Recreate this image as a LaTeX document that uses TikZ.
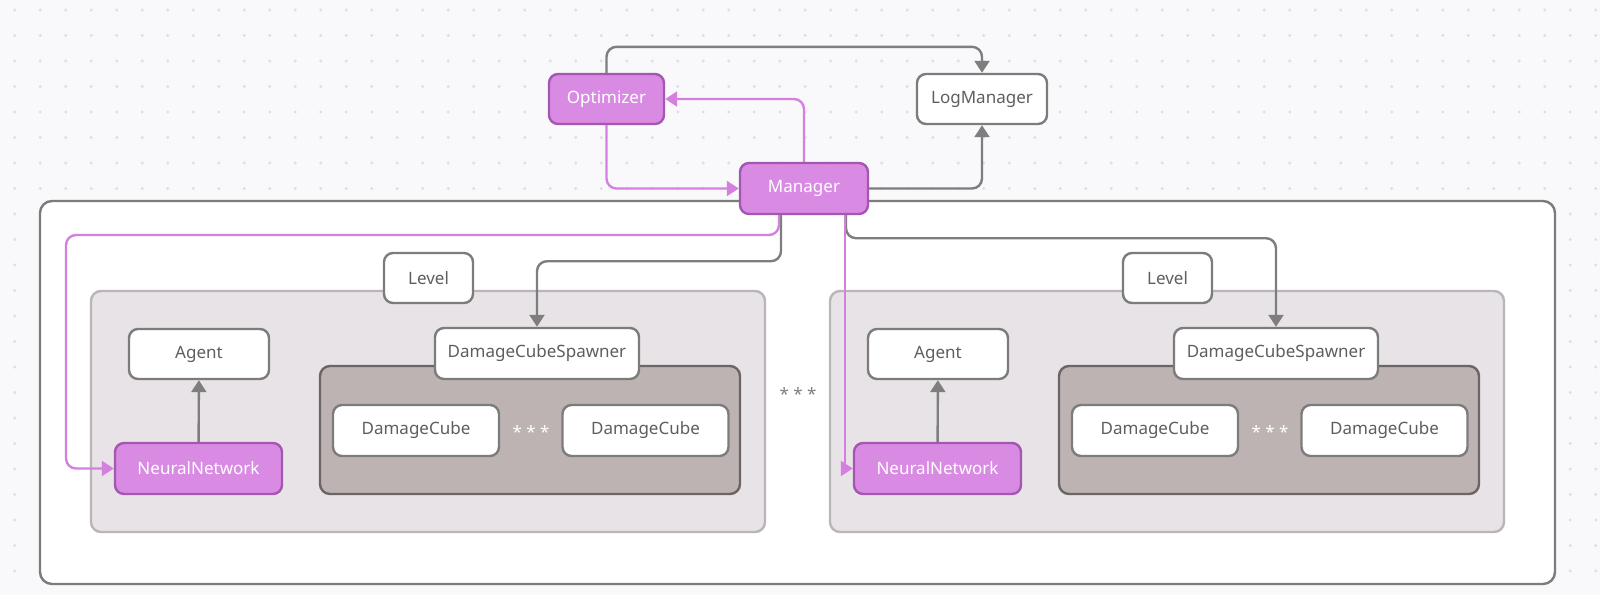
\documentclass[tikz,border=0pt]{standalone}
\usepackage{fontspec}
\setmainfont{Noto Sans}
\usetikzlibrary{arrows.meta}

\definecolor{bgc}{HTML}{F9F9FB}
\definecolor{dotc}{HTML}{DEDEE3}
\definecolor{boxline}{HTML}{7C7C7C}
\definecolor{txtc}{HTML}{5E5E5E}
\definecolor{linec}{HTML}{7E7E7E}
\definecolor{pinkfill}{HTML}{D98BE4}
\definecolor{pinkline}{HTML}{A457B2}
\definecolor{pinkarrow}{HTML}{D580E1}
\definecolor{levelfill}{HTML}{E8E3E6}
\definecolor{levelline}{HTML}{B9B5B8}
\definecolor{cubefill}{HTML}{BCB3B2}
\definecolor{cubeline}{HTML}{6B6565}

\tikzset{
  box/.style={draw=boxline, fill=white, rounded corners=9pt, line width=2.4pt,
    text=txtc, font=\fontsize{17}{20}\selectfont, inner sep=0pt},
  pinkbox/.style={box, draw=pinkline, fill=pinkfill, text=white},
  gline/.style={draw=linec, line width=2.4pt, rounded corners=10pt,
    -{Triangle[length=12pt,width=15pt]}},
  pline/.style={gline, draw=pinkarrow},
  levelbg/.style={draw=levelline, fill=levelfill, line width=2.4pt, rounded corners=10pt},
  cubebg/.style={draw=cubeline, fill=cubefill, line width=2.4pt, rounded corners=10pt},
  stars/.style={font=\fontsize{17}{20}\selectfont, inner sep=0pt}
}

\begin{document}
\begin{tikzpicture}[x=1pt, y=-1pt]
  \useasboundingbox (0,0) rectangle (1600,595);
  \fill[bgc] (0,0) rectangle (1600,595);
  % dotted canvas
  \foreach \i in {0,...,62}
    \foreach \j in {0,...,22}
      \fill[dotc] (14.7+25.5*\i, 10+25.5*\j) circle (1.6);

  \draw[draw=boxline, fill=white, line width=2.4pt, rounded corners=12pt] (40,201) rectangle (1555,584);

  \node[pinkbox, minimum width=115pt, minimum height=50pt] (opt) at (606.5,99) {Optimizer};
  \node[box, minimum width=130pt, minimum height=50pt] (logm) at (982,99) {LogManager};
  \node[pinkbox, minimum width=128pt, minimum height=51pt] (mgr) at (804,188.5) {Manager};

  % the two levels
  \foreach \i/\dx in {1/0, 2/739} {
    \begin{scope}[xshift=\dx pt]
      \draw[levelbg] (91,291) rectangle (765,532);
      \node[box, minimum width=89pt, minimum height=50pt] (level\i) at (428.5,278) {Level};
      \draw[cubebg] (320,366) rectangle (740,494);
      \node[box, minimum width=140pt, minimum height=50pt] (agent\i) at (199,354) {Agent};
      \node[pinkbox, minimum width=167pt, minimum height=51pt] (nn\i) at (198.5,468.5) {NeuralNetwork};
      \node[box, minimum width=204pt, minimum height=51pt] (spawner\i) at (537,353.5) {DamageCubeSpawner};
      \node[box, minimum width=166pt, minimum height=51pt] (cubeA\i) at (416,430.5) {DamageCube};
      \node[box, minimum width=166pt, minimum height=51pt] (cubeB\i) at (645.5,430.5) {DamageCube};
      \node[stars, text=white] (dots\i) at (531,432) {* * *};
      \draw[gline] (nn\i) -- (agent\i);
    \end{scope}
  }
  \node[stars, text=linec] (dotsmid) at (798,394) {* * *};

  \draw[gline] (opt.north) -- ++(0,-26) -| (logm.north);
  \draw[gline] (mgr.east) -| (logm.south);
  \draw[pline] (mgr.north) |- (opt.east);
  \draw[pline] (opt.south) |- (mgr.west);

  \draw[gline] ([xshift=-23pt]mgr.south) -- ++(0,46) -| (spawner1.north);
  \draw[gline] ([xshift=42pt]mgr.south) -- ++(0,23) -| (spawner2.north);
  \draw[pline] ([xshift=-25pt]mgr.south) |- (66,235) |- (nn1.west);
  \draw[pline, sharp corners] ([xshift=41pt]mgr.south) |- (nn2.west);
\end{tikzpicture}
\end{document}
